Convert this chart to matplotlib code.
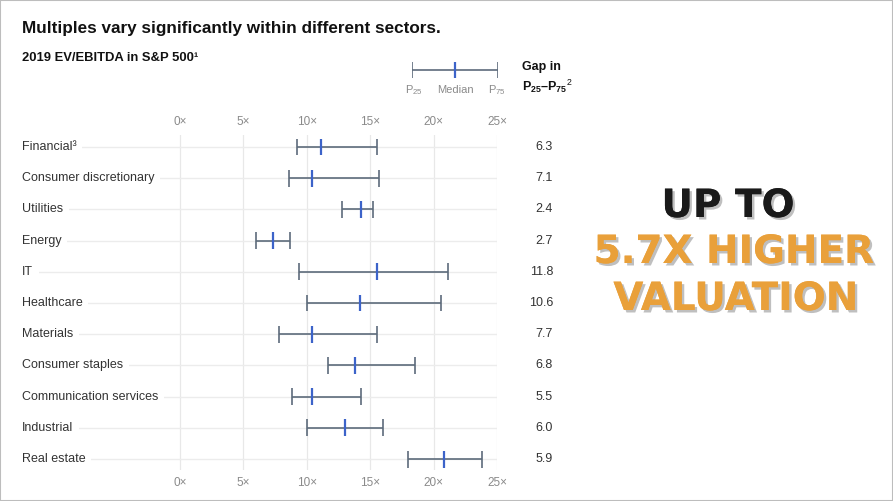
import matplotlib
matplotlib.use('Agg')
import matplotlib.pyplot as plt
import matplotlib.patheffects as pe
from matplotlib.transforms import blended_transform_factory
from matplotlib.patches import Rectangle

plt.rcParams['font.family'] = ['Liberation Sans', 'DejaVu Sans']
plt.rcParams['mathtext.fontset'] = 'custom'
plt.rcParams['mathtext.rm'] = 'Liberation Sans'
plt.rcParams['mathtext.bf'] = 'Liberation Sans:bold'
plt.rcParams['mathtext.default'] = 'regular'

# data: 2019 EV/EBITDA multiples per sector
sectors = ['Financial³', 'Consumer discretionary', 'Utilities', 'Energy', 'IT',
           'Healthcare', 'Materials', 'Consumer staples', 'Communication services',
           'Industrial', 'Real estate']
p25 = [9.25, 8.6, 12.8, 6.0, 9.35, 10.0, 7.8, 11.7, 8.8, 10.0, 17.95]
median = [11.1, 10.4, 14.3, 7.3, 15.5, 14.2, 10.4, 13.8, 10.4, 13.0, 20.8]
p75 = [15.55, 15.7, 15.2, 8.7, 21.15, 20.6, 15.5, 18.5, 14.3, 16.0, 23.85]
gaps = ['6.3', '7.1', '2.4', '2.7', '11.8', '10.6', '7.7', '6.8', '5.5', '6.0', '5.9']
xticks = [0, 5, 10, 15, 20, 25]

W, H = 893, 501
fig = plt.figure(figsize=(W / 100, H / 100), dpi=100)

def fx(px):
    return px / W

def fy(py):
    return 1 - py / H

# main axes: pixel 22..497 horizontally, 0x at 180 and 25x at 497
ppu = (497 - 180) / 25.0
x_left = (22 - 180) / ppu
ax = fig.add_axes([fx(22), fy(470), fx(497) - fx(22), fy(135) - fy(470)])
ax.set_xlim(x_left, 25)
rows = list(range(len(sectors)))
ax.set_ylim(10.35, -0.385)
for s in ax.spines.values():
    s.set_visible(False)
ax.set_yticks([])
ax.set_xticks(xticks)
ax.set_xticklabels([f'{t}×' for t in xticks])
ax.tick_params(axis='x', length=0, labelsize=8.5, labelcolor='#8a8a8a',
               top=True, labeltop=True, pad=5)
ax.grid(axis='x', color='#e8e8e8', lw=0.9)
ax.set_axisbelow(True)

# guide lines and labels
ax.hlines(rows, x_left, 25, color='#ececec', lw=1.0, zorder=1)
ylab = ax.get_yaxis_transform()
for i, name in enumerate(sectors):
    ax.text(0, i, name, transform=ylab, ha='left', va='center', fontsize=9,
            color='#333333', zorder=3,
            bbox=dict(boxstyle='square,pad=0.45', fc='white', ec='none'))

# ranges
cap = 0.27
bar_col = '#5d6b7b'
ax.hlines(rows, p25, p75, color=bar_col, lw=1.2, zorder=4)
ax.vlines(p25, [r - cap for r in rows], [r + cap for r in rows], color=bar_col, lw=1.2, zorder=4)
ax.vlines(p75, [r - cap for r in rows], [r + cap for r in rows], color=bar_col, lw=1.2, zorder=4)
ax.vlines(median, [r - cap for r in rows], [r + cap for r in rows], color='#3c63c9', lw=1.6, zorder=5)

# gap values
gtr = blended_transform_factory(fig.transFigure, ax.transData)
for i, g in enumerate(gaps):
    ax.text(fx(553), i, g, transform=gtr, ha='right', va='center', fontsize=9, color='#333333')

# titles
fig.text(fx(22), fy(28), 'Multiples vary significantly within different sectors.',
         fontsize=12.3, fontweight='bold', color='#111111', va='center')
fig.text(fx(22), fy(58), '2019 EV/EBITDA in S&P 500¹', fontsize=9.4,
         fontweight='bold', color='#111111', va='center')

# legend
lax = fig.add_axes([fx(412), fy(80), fx(498) - fx(412), fy(60) - fy(80)])
lax.set_xlim(0, 1)
lax.set_ylim(-1, 1)
lax.axis('off')
lax.hlines([0], 0.0, 1.0, color=bar_col, lw=1.2)
lax.vlines([0.0, 1.0], -0.8, 0.8, color=bar_col, lw=1.2)
lax.vlines([0.5], -0.8, 0.8, color='#3c63c9', lw=1.6)
fig.text(fx(414), fy(90), r'P$_{25}$', fontsize=8, color='#8a8a8a', ha='center', va='center')
fig.text(fx(455), fy(90), 'Median', fontsize=8, color='#8a8a8a', ha='center', va='center')
fig.text(fx(497), fy(90), r'P$_{75}$', fontsize=8, color='#8a8a8a', ha='center', va='center')
fig.text(fx(522), fy(67), 'Gap in', fontsize=9, fontweight='bold', color='#111111', va='center')
fig.text(fx(522), fy(86), r'$\mathbf{P_{25}}$$\mathbf{–P_{75}}$$^{2}$', fontsize=9,
         color='#111111', va='center')

# callout
shadow = [pe.withSimplePatchShadow(offset=(1.8, -1.8), shadow_rgbFace='#b8b8b8', alpha=0.9),
          pe.Normal()]
for txt, x, y, col in [('UP TO', 728, 206, '#1a1a1a'), ('5.7X HIGHER', 734, 252, '#e9a03a'),
                       ('VALUATION', 736, 299, '#e9a03a')]:
    fig.text(fx(x), fy(y), txt, fontsize=28, fontweight='bold', fontstyle='normal',
             family=['DejaVu Sans'], color=col, ha='center', va='center',
             path_effects=shadow)

fig.patches.append(Rectangle((0, 0), 1, 1, transform=fig.transFigure, fill=False,
                             ec='#bdbdbd', lw=1.5))

fig.savefig('out.png', dpi=100)
